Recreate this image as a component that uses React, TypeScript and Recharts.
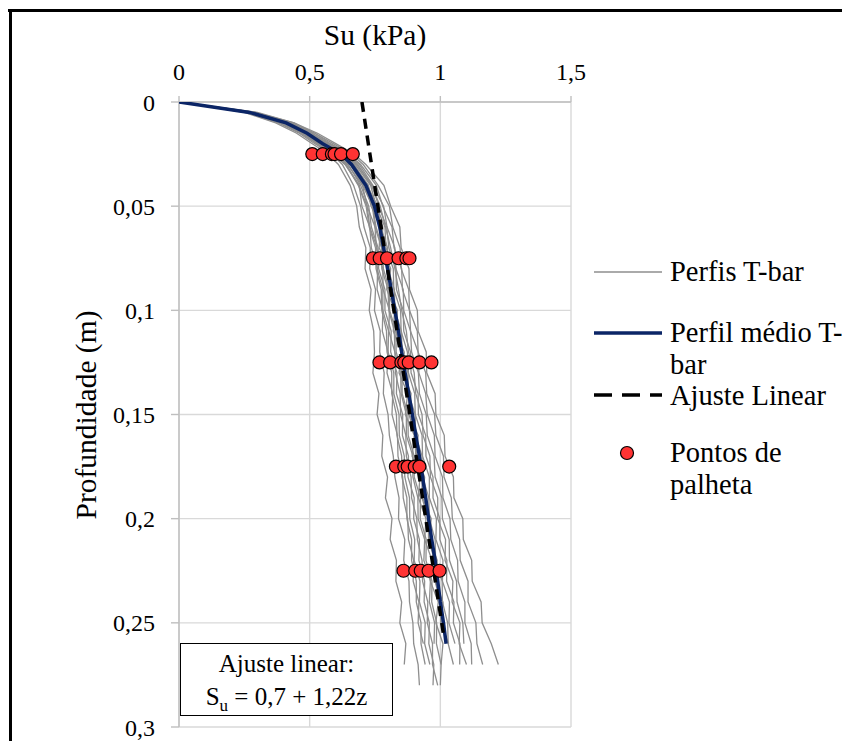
import React from 'react';
import { ScatterChart, Scatter, XAxis, YAxis, CartesianGrid } from 'recharts';

// Depth stations (m) shared by every profile
const depths = [
  0, 0.005, 0.01, 0.015, 0.02, 0.025, 0.03, 0.04, 0.05, 0.06, 0.07, 0.08, 0.09, 0.1, 0.11, 0.12,
  0.13, 0.14, 0.15, 0.16, 0.17, 0.18, 0.19, 0.2, 0.21, 0.22, 0.23, 0.24, 0.25, 0.26, 0.27, 0.28,
];

// Individual T-bar profiles, Su (kPa) at each depth station
const perfil01 = [0, 0.25, 0.37, 0.45, 0.51, 0.57, 0.61, 0.655, 0.68, 0.69, 0.715, 0.712, 0.735, 0.728, 0.745, 0.748, 0.742, 0.765, 0.758, 0.78, 0.776, 0.798, 0.79, 0.815, 0.808, 0.832, 0.83, 0.852, 0.845, 0.868, 0.862];
const perfil02 = [0, 0.26, 0.38, 0.46, 0.52, 0.585, 0.625, 0.668, 0.695, 0.708, 0.732, 0.73, 0.752, 0.748, 0.77, 0.768, 0.785, 0.782, 0.8, 0.805, 0.82, 0.826, 0.842, 0.84, 0.864, 0.86, 0.88, 0.882, 0.895, 0.898, 0.915, 0.92];
const perfil03 = [0, 0.26, 0.39, 0.47, 0.53, 0.59, 0.635, 0.69, 0.7, 0.73, 0.736, 0.76, 0.758, 0.78, 0.778, 0.8, 0.796, 0.818, 0.815, 0.836, 0.838, 0.856, 0.858, 0.875, 0.878, 0.898, 0.896, 0.918, 0.915, 0.935];
const perfil04 = [0, 0.27, 0.39, 0.47, 0.535, 0.6, 0.64, 0.688, 0.72, 0.73, 0.758, 0.758, 0.78, 0.78, 0.802, 0.8, 0.822, 0.822, 0.842, 0.843, 0.862, 0.864, 0.882, 0.883, 0.902, 0.9, 0.922, 0.92, 0.942, 0.94, 0.96];
const perfil05 = [0, 0.27, 0.4, 0.48, 0.54, 0.6, 0.645, 0.702, 0.72, 0.75, 0.755, 0.78, 0.781, 0.805, 0.803, 0.826, 0.828, 0.846, 0.848, 0.868, 0.87, 0.888, 0.89, 0.91, 0.912, 0.93, 0.932, 0.952, 0.95, 0.97, 0.97, 0.99];
const perfil06 = [0, 0.27, 0.4, 0.48, 0.545, 0.61, 0.655, 0.703, 0.74, 0.75, 0.775, 0.776, 0.8, 0.803, 0.824, 0.826, 0.848, 0.85, 0.87, 0.87, 0.895, 0.895, 0.914, 0.915, 0.94, 0.937, 0.962, 0.958, 0.978, 0.976];
const perfil07 = [0, 0.28, 0.41, 0.49, 0.55, 0.615, 0.66, 0.716, 0.735, 0.77, 0.766, 0.8, 0.795, 0.825, 0.82, 0.85, 0.842, 0.875, 0.866, 0.9, 0.892, 0.922, 0.916, 0.945, 0.94, 0.968, 0.962, 0.992, 0.983, 1.01, 1.003];
const perfil08 = [0, 0.28, 0.41, 0.49, 0.555, 0.62, 0.665, 0.718, 0.744, 0.772, 0.778, 0.804, 0.806, 0.828, 0.83, 0.853, 0.856, 0.878, 0.88, 0.903, 0.906, 0.93, 0.93, 0.954, 0.955, 0.978, 0.98, 1.0, 1.002];
const perfil09 = [0, 0.28, 0.42, 0.5, 0.56, 0.625, 0.67, 0.72, 0.76, 0.772, 0.798, 0.8, 0.824, 0.826, 0.851, 0.854, 0.876, 0.878, 0.904, 0.905, 0.93, 0.932, 0.956, 0.958, 0.98, 0.982, 1.007, 1.008, 1.028, 1.03, 1.05];
const perfil10 = [0, 0.28, 0.42, 0.5, 0.565, 0.63, 0.675, 0.733, 0.755, 0.788, 0.792, 0.82, 0.822, 0.848, 0.85, 0.874, 0.878, 0.902, 0.904, 0.93, 0.932, 0.958, 0.958, 0.985, 0.983, 1.01, 1.008, 1.035, 1.033, 1.056];
const perfil11 = [0, 0.29, 0.42, 0.51, 0.57, 0.635, 0.68, 0.74, 0.764, 0.795, 0.803, 0.83, 0.832, 0.858, 0.86, 0.886, 0.888, 0.915, 0.916, 0.944, 0.945, 0.972, 0.972, 0.998, 0.998, 1.025, 1.024, 1.052, 1.05, 1.075, 1.074];
const perfil12 = [0, 0.29, 0.43, 0.51, 0.575, 0.645, 0.69, 0.742, 0.783, 0.796, 0.826, 0.83, 0.858, 0.86, 0.886, 0.89, 0.916, 0.92, 0.946, 0.95, 0.976, 0.98, 1.006, 1.008, 1.034, 1.035, 1.062, 1.064, 1.086, 1.09];
const perfil13 = [0, 0.29, 0.43, 0.52, 0.58, 0.65, 0.695, 0.755, 0.78, 0.815, 0.823, 0.852, 0.855, 0.882, 0.886, 0.915, 0.918, 0.944, 0.95, 0.977, 0.98, 1.008, 1.01, 1.037, 1.04, 1.066, 1.068, 1.094, 1.094, 1.118, 1.12];
const perfil14 = [0, 0.29, 0.44, 0.52, 0.59, 0.66, 0.705, 0.762, 0.805, 0.818, 0.846, 0.85, 0.879, 0.882, 0.912, 0.915, 0.944, 0.948, 0.978, 0.983, 1.012, 1.014, 1.042, 1.046, 1.074, 1.076, 1.106, 1.106, 1.136, 1.14, 1.162];
const perfil15 = [0, 0.3, 0.44, 0.53, 0.6, 0.67, 0.715, 0.784, 0.81, 0.845, 0.85, 0.88, 0.882, 0.912, 0.915, 0.946, 0.948, 0.98, 0.983, 1.015, 1.018, 1.05, 1.052, 1.086, 1.088, 1.12, 1.122, 1.156, 1.16, 1.195, 1.222];
const perfil16 = [0, 0.27, 0.4, 0.485, 0.548, 0.612, 0.658, 0.706, 0.742, 0.754, 0.778, 0.782, 0.805, 0.806, 0.83, 0.831, 0.853, 0.854, 0.876, 0.877, 0.9, 0.9, 0.924, 0.923, 0.946, 0.945, 0.968, 0.967, 0.986, 0.985, 1.003, 1.0];
const perfil17 = [0, 0.28, 0.415, 0.495, 0.558, 0.622, 0.668, 0.725, 0.742, 0.78, 0.776, 0.81, 0.803, 0.836, 0.83, 0.862, 0.856, 0.888, 0.882, 0.915, 0.908, 0.94, 0.932, 0.965, 0.958, 0.988, 0.98, 1.01, 1.002, 1.032];
const perfil18 = [0, 0.26, 0.385, 0.465, 0.528, 0.592, 0.638, 0.686, 0.716, 0.728, 0.752, 0.754, 0.774, 0.776, 0.794, 0.796, 0.814, 0.814, 0.832, 0.834, 0.852, 0.853, 0.872, 0.872, 0.89, 0.89, 0.908, 0.908, 0.926, 0.926, 0.942];
const perfil19 = [0, 0.27, 0.395, 0.475, 0.538, 0.602, 0.648, 0.695, 0.726, 0.736, 0.762, 0.764, 0.788, 0.788, 0.812, 0.81, 0.834, 0.832, 0.856, 0.855, 0.878, 0.876, 0.9, 0.898, 0.92, 0.918, 0.94, 0.938, 0.958, 0.956, 0.975, 0.972];
const perfil20 = [0, 0.29, 0.425, 0.505, 0.568, 0.638, 0.684, 0.736, 0.77, 0.79, 0.81, 0.826, 0.84, 0.852, 0.87, 0.878, 0.9, 0.906, 0.93, 0.934, 0.96, 0.962, 0.99, 0.99, 1.02, 1.018, 1.048, 1.045, 1.075, 1.072, 1.1];

const perfis = [
  perfil01, perfil02, perfil03, perfil04, perfil05, perfil06, perfil07, perfil08, perfil09, perfil10,
  perfil11, perfil12, perfil13, perfil14, perfil15, perfil16, perfil17, perfil18, perfil19, perfil20,
];

// Mean T-bar profile
const perfilMedio = [0, 0.27, 0.41, 0.49, 0.55, 0.62, 0.66, 0.715, 0.748, 0.768, 0.783, 0.798, 0.812, 0.826, 0.84, 0.852, 0.865, 0.879, 0.893, 0.906, 0.92, 0.932, 0.944, 0.955, 0.967, 0.98, 0.99, 1.0, 1.012, 1.022];

// Linear fit Su = 0,7 + 1,22z (end points)
const ajusteSu = [0.7, 1.015];
const ajusteZ = [0, 0.258];

// Vane test points
const palhetaZ = [
  0.025, 0.025, 0.025, 0.025, 0.025, 0.025,
  0.075, 0.075, 0.075, 0.075, 0.075, 0.075,
  0.125, 0.125, 0.125, 0.125, 0.125, 0.125, 0.125,
  0.175, 0.175, 0.175, 0.175, 0.175, 0.175,
  0.225, 0.225, 0.225, 0.225, 0.225,
];
const palhetaSu = [
  0.51, 0.55, 0.585, 0.595, 0.62, 0.665,
  0.742, 0.768, 0.796, 0.84, 0.87, 0.882,
  0.767, 0.808, 0.851, 0.862, 0.879, 0.92, 0.966,
  0.83, 0.862, 0.875, 0.902, 0.92, 1.034,
  0.859, 0.904, 0.925, 0.955, 0.997,
];

const suTicks = [0, 0.5, 1, 1.5];
const zTicks = [0, 0.05, 0.1, 0.15, 0.2, 0.25, 0.3];

const FONT = "'Liberation Serif', 'Times New Roman', Tinos, 'DejaVu Serif'";
const GRAY = '#8e8e8e';
const BLUE = '#0b2566';
const RED = '#ff3333';

const toRows = (su: number[]) => su.map((v, i) => ({ su: v, z: depths[i] }));
const profileData = perfis.map(toRows);
const meanData = toRows(perfilMedio);
const fitData = ajusteSu.map((v, i) => ({ su: v, z: ajusteZ[i] }));
const vaneData = palhetaSu.map((v, i) => ({ su: v, z: palhetaZ[i] }));

const fmt = (v: number) => String(v).replace('.', ',');

const NoDot = () => <g />;
const VaneDot = (props: any) => (
  <circle cx={props.cx} cy={props.cy} r={6.5} fill={RED} stroke="#000" strokeWidth={1.2} />
);

const legendText: React.CSSProperties = {
  position: 'absolute',
  left: 78,
  fontSize: 28.5,
  lineHeight: '32px',
  color: '#000',
  fontFamily: FONT,
  whiteSpace: 'nowrap',
};

// Legend drawn beside the plot (page coords minus the 8px body margin)
const LegendBox = () => (
  <div style={{ position: 'absolute', left: 584, top: 250, width: 258, height: 260 }}>
    <svg width={80} height={260} style={{ position: 'absolute', left: 0, top: 0 }}>
      <line x1={2} x2={70} y1={14} y2={14} stroke={GRAY} strokeWidth={1.5} />
      <line x1={2} x2={70} y1={75} y2={75} stroke={BLUE} strokeWidth={3.5} />
      <line x1={2} x2={70} y1={137} y2={137} stroke="#000" strokeWidth={3.5} strokeDasharray="18 10" />
      <circle cx={35} cy={195} r={6.5} fill={RED} stroke="#000" strokeWidth={1.2} />
    </svg>
    <div style={{ ...legendText, top: -2 }}>Perfis T-bar</div>
    <div style={{ ...legendText, top: 59 }}>Perfil médio T-<br />bar</div>
    <div style={{ ...legendText, top: 122 }}>Ajuste Linear</div>
    <div style={{ ...legendText, top: 179 }}>Pontos de<br />palheta</div>
  </div>
);

export default function App() {
  return (
    <div style={{ position: 'relative', width: 842, height: 733, fontFamily: FONT, background: '#fff' }}>
      <div style={{ position: 'absolute', left: 0, top: 1, width: 842, height: 3, background: '#000' }} />
      <div style={{ position: 'absolute', left: 1, top: 1, width: 3, height: 732, background: '#000' }} />

      <ScatterChart
        width={842}
        height={733}
        margin={{ top: 24, right: 279, bottom: 14, left: 91 }}
        style={{ position: 'absolute', left: 0, top: 0 }}
      >
        <CartesianGrid stroke="#d9d9d9" strokeWidth={1.4} />
        <XAxis
          type="number"
          dataKey="su"
          orientation="top"
          domain={[0, 1.5]}
          ticks={suTicks}
          height={70}
          tickFormatter={fmt}
          tickSize={6}
          tickMargin={16}
          stroke="#bfbfbf"
          strokeWidth={1.4}
          tick={{ fill: '#000', fontSize: 24, fontFamily: FONT }}
          allowDataOverflow
        />
        <YAxis
          type="number"
          dataKey="z"
          reversed
          domain={[0, 0.3]}
          ticks={zTicks}
          width={80}
          tickFormatter={fmt}
          tickSize={8}
          tickMargin={16}
          stroke="#bfbfbf"
          strokeWidth={1.4}
          tick={{ fill: '#000', fontSize: 24, fontFamily: FONT }}
          allowDataOverflow
        />
        {profileData.map((d, i) => (
          <Scatter
            key={'p' + i}
            data={d}
            line={{ stroke: GRAY, strokeWidth: 1.3 }}
            lineType="joint"
            shape={NoDot}
            isAnimationActive={false}
          />
        ))}
        <Scatter
          data={meanData}
          line={{ stroke: BLUE, strokeWidth: 3.5 }}
          lineType="joint"
          shape={NoDot}
          isAnimationActive={false}
        />
        <Scatter
          data={fitData}
          line={{ stroke: '#000', strokeWidth: 3.5, strokeDasharray: '10 7' }}
          lineType="joint"
          shape={NoDot}
          isAnimationActive={false}
        />
        <Scatter data={vaneData} shape={VaneDot} isAnimationActive={false} />
      </ScatterChart>

      <LegendBox />

      <div style={{ position: 'absolute', left: 267, top: 10, width: 200, textAlign: 'center', fontSize: 29.5, lineHeight: '34px' }}>
        Su (kPa)
      </div>
      <div
        style={{
          position: 'absolute',
          left: 78 - 130,
          top: 407 - 17,
          width: 260,
          textAlign: 'center',
          fontSize: 29.5,
          lineHeight: '34px',
          transform: 'rotate(-90deg)',
          whiteSpace: 'nowrap',
        }}
      >
        Profundidade (m)
      </div>
      <div
        style={{
          position: 'absolute',
          left: 172,
          top: 635,
          width: 213,
          height: 73,
          boxSizing: 'border-box',
          border: '1.5px solid #000',
          background: '#fff',
          textAlign: 'center',
          fontSize: 25,
          lineHeight: '33px',
          paddingTop: 3,
        }}
      >
        Ajuste linear:
        <br />
        S<sub style={{ fontSize: 17, lineHeight: 0 }}>u</sub> = 0,7 + 1,22z
      </div>
    </div>
  );
}
